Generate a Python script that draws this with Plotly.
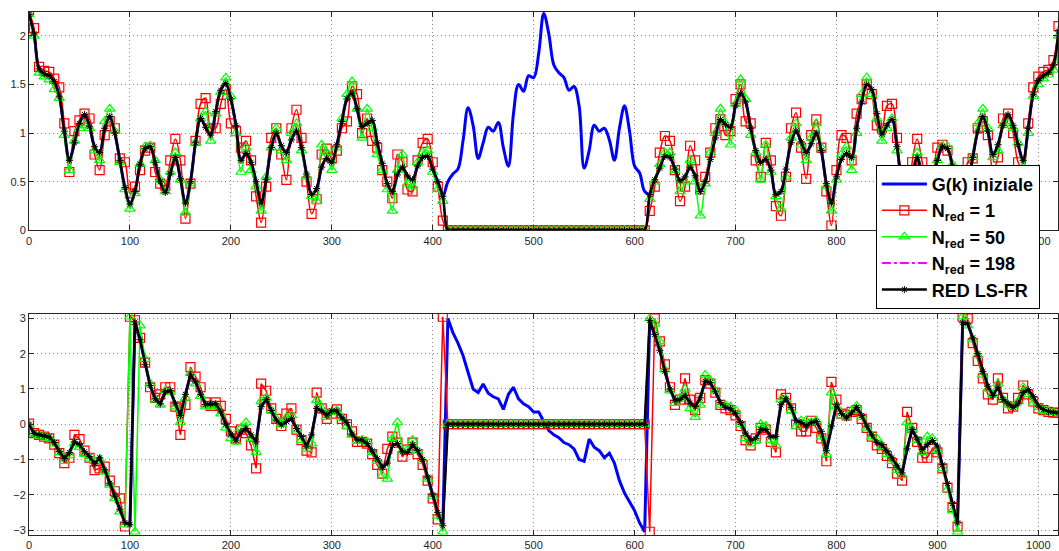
import plotly.graph_objects as go

# sample index grid (every 5th bin of a 1024-point spectrum)
K = list(range(0, 1021, 5))

# ---------------- magnitude |G(k)| ----------------
BLACK_MAG = [
    2.22, 2.02, 1.66, 1.61, 1.59, 1.53, 1.38, 1.02, 0.72, 0.90,
    1.10, 1.19, 1.07, 0.86, 0.80, 1.05, 1.17, 1.00, 0.72, 0.44,
    0.27, 0.40, 0.68, 0.84, 0.86, 0.70, 0.50, 0.39, 0.58, 0.75,
    0.53, 0.28, 0.50, 0.90, 1.15, 1.06, 0.98, 1.22, 1.44, 1.51,
    1.35, 1.08, 0.72, 0.79, 0.70, 0.50, 0.28, 0.52, 0.85, 1.00,
    0.87, 0.80, 0.93, 1.02, 0.85, 0.58, 0.37, 0.43, 0.65, 0.74,
    0.70, 0.88, 1.12, 1.35, 1.41, 1.25, 1.07, 1.10, 1.13, 0.90,
    0.69, 0.48, 0.40, 0.57, 0.65, 0.56, 0.52, 0.66, 0.75, 0.76,
    0.63, 0.50, 0.35, 0.00, 0.00, 0.00, 0.00, 0.00, 0.00, 0.00,
    0.00, 0.00, 0.00, 0.00, 0.00, 0.00, 0.00, 0.00, 0.00, 0.00,
    0.00, 0.00, 0.00, 0.00, 0.00, 0.00, 0.00, 0.00, 0.00, 0.00,
    0.00, 0.00, 0.00, 0.00, 0.00, 0.00, 0.00, 0.00, 0.00, 0.00,
    0.00, 0.00, 0.00, 0.37, 0.52, 0.64, 0.76, 0.75, 0.63, 0.51,
    0.55, 0.65, 0.56, 0.40, 0.50, 0.73, 0.95, 1.14, 1.09, 1.06,
    1.28, 1.41, 1.32, 1.05, 0.82, 0.70, 0.73, 0.62, 0.37, 0.40,
    0.63, 0.90, 1.02, 0.91, 0.80, 0.89, 1.00, 0.82, 0.48, 0.28,
    0.55, 0.73, 0.79, 0.75, 1.05, 1.32, 1.50, 1.45, 1.20, 0.99,
    1.08, 1.14, 0.86, 0.47, 0.29, 0.56, 0.75, 0.56, 0.40, 0.52,
    0.72, 0.86, 0.84, 0.66, 0.38, 0.28, 0.46, 0.75, 1.02, 1.17,
    1.02, 0.78, 0.88, 1.08, 1.19, 1.08, 0.88, 0.72, 1.05, 1.40,
    1.54, 1.59, 1.62, 1.70, 2.05,
]
RED_MAG = [
    2.25, 2.08, 1.68, 1.64, 1.63, 1.56, 1.47, 1.10, 0.60, 1.02,
    1.13, 1.20, 1.15, 0.78, 0.62, 0.98, 1.12, 1.05, 0.74, 0.70,
    0.38, 0.45, 0.62, 0.82, 0.85, 0.60, 0.48, 0.46, 0.72, 0.94,
    0.72, 0.12, 0.48, 0.92, 1.30, 1.36, 1.05, 1.05, 1.30, 1.45,
    1.10, 1.02, 0.85, 0.92, 0.72, 0.35, 0.08, 0.45, 0.95, 1.05,
    0.78, 0.52, 1.05, 1.24, 0.95, 0.50, 0.17, 0.32, 0.78, 0.84,
    0.74, 0.82, 1.05, 1.12, 1.48, 1.40, 1.00, 1.15, 0.92, 0.85,
    0.62, 0.50, 0.33, 0.78, 0.70, 0.42, 0.40, 0.72, 0.90, 0.94,
    0.70, 0.45, 0.10, 0.00, 0.00, 0.00, 0.00, 0.00, 0.00, 0.00,
    0.00, 0.00, 0.00, 0.00, 0.00, 0.00, 0.00, 0.00, 0.00, 0.00,
    0.00, 0.00, 0.00, 0.00, 0.00, 0.00, 0.00, 0.00, 0.00, 0.00,
    0.00, 0.00, 0.00, 0.00, 0.00, 0.00, 0.00, 0.00, 0.00, 0.00,
    0.00, 0.00, 0.00, 0.20, 0.45, 0.80, 0.97, 0.92, 0.62, 0.30,
    0.45, 0.87, 0.72, 0.42, 0.55, 0.80, 1.05, 1.14, 0.98, 1.02,
    1.35, 1.50, 1.12, 1.10, 0.72, 0.55, 0.90, 0.72, 0.25, 0.15,
    0.55, 1.05, 1.21, 0.85, 0.53, 0.98, 1.14, 0.85, 0.40, 0.05,
    0.62, 0.98, 0.95, 0.72, 1.20, 1.35, 1.50, 1.40, 1.08, 1.05,
    1.28, 1.30, 0.95, 0.45, 0.12, 0.70, 0.94, 0.70, 0.45, 0.48,
    0.85, 0.88, 0.82, 0.62, 0.45, 0.38, 0.70, 0.74, 1.05, 1.12,
    0.98, 0.62, 0.75, 1.15, 1.20, 1.00, 0.70, 0.62, 1.10, 1.47,
    1.58, 1.63, 1.65, 1.75, 2.10,
]
GREEN_MAG = [
    2.22, 2.00, 1.62, 1.58, 1.55, 1.45, 1.36, 0.98, 0.62, 0.92,
    1.05, 1.08, 1.05, 0.82, 0.72, 1.12, 1.25, 1.02, 0.70, 0.42,
    0.22, 0.38, 0.68, 0.86, 0.87, 0.72, 0.52, 0.40, 0.60, 0.80,
    0.52, 0.18, 0.48, 0.90, 1.15, 1.22, 0.92, 1.20, 1.42, 1.57,
    1.38, 1.00, 0.60, 0.85, 0.62, 0.45, 0.20, 0.55, 0.85, 1.05,
    0.82, 0.72, 1.00, 1.10, 0.82, 0.55, 0.35, 0.30, 0.88, 0.80,
    0.62, 0.85, 1.15, 1.40, 1.53, 1.25, 0.95, 1.25, 1.05, 0.78,
    0.62, 0.42, 0.20, 0.62, 0.78, 0.48, 0.45, 0.70, 0.80, 0.82,
    0.60, 0.42, 0.30, 0.00, 0.00, 0.00, 0.00, 0.00, 0.00, 0.00,
    0.00, 0.00, 0.00, 0.00, 0.00, 0.00, 0.00, 0.00, 0.00, 0.00,
    0.00, 0.00, 0.00, 0.00, 0.00, 0.00, 0.00, 0.00, 0.00, 0.00,
    0.00, 0.00, 0.00, 0.00, 0.00, 0.00, 0.00, 0.00, 0.00, 0.00,
    0.00, 0.00, 0.00, 0.32, 0.50, 0.68, 0.80, 0.80, 0.62, 0.40,
    0.50, 0.72, 0.50, 0.15, 0.48, 0.80, 1.00, 1.25, 1.10, 0.88,
    1.30, 1.55, 1.35, 0.98, 0.80, 0.52, 0.88, 0.60, 0.35, 0.22,
    0.55, 0.95, 1.10, 0.88, 0.72, 0.95, 1.10, 0.85, 0.45, 0.20,
    0.52, 0.78, 0.86, 0.62, 1.00, 1.40, 1.57, 1.40, 1.15, 0.92,
    1.05, 1.15, 0.82, 0.42, 0.20, 0.55, 0.80, 0.55, 0.40, 0.52,
    0.72, 0.87, 0.86, 0.68, 0.38, 0.24, 0.45, 0.75, 1.10, 1.25,
    1.05, 0.75, 0.82, 1.08, 1.10, 1.05, 0.90, 0.65, 1.00, 1.38,
    1.50, 1.56, 1.60, 1.65, 2.00,
]
# original G(k) in the removed band k = 415 ... 610
BLUE_MAG_MID = [
    0.50, 0.58, 0.63, 0.92, 1.26, 1.08, 0.74, 0.90, 1.06, 1.02,
    1.11, 0.85, 0.66, 1.20, 1.50, 1.43, 1.59, 1.57, 1.82, 2.23,
    2.02, 1.70, 1.62, 1.57, 1.44, 1.48, 1.28, 0.64, 0.82, 1.08,
    1.02, 1.05, 0.93, 0.72, 1.05, 1.28, 1.02, 0.66, 0.59, 0.40,
]

# ---------------- phase arg G(k) ----------------
BLACK_PH = [
    0.00, -0.26, -0.30, -0.33, -0.36, -0.52, -0.77, -0.97, -0.80, -0.50,
    -0.58, -0.78, -0.92, -1.12, -0.95, -1.29, -1.67, -2.04, -2.41, -2.79,
    -2.85, 2.90, 2.40, 1.70, 1.10, 0.72, 0.58, 0.92, 0.95, 0.58,
    0.25, 0.85, 1.40, 1.20, 0.85, 0.56, 0.58, 0.58, 0.35, 0.00,
    -0.28, -0.45, -0.22, -0.12, -0.30, -0.50, 0.50, 0.70, 0.39, 0.12,
    -0.02, 0.08, 0.16, -0.12, -0.35, -0.62, -0.30, 0.45, 0.38, 0.26,
    0.38, 0.38, 0.18, 0.05, -0.28, -0.44, -0.45, -0.55, -0.76, -0.98,
    -1.22, -1.10, -0.60, -0.55, -0.78, -0.80, -0.58, -0.75, -1.00, -1.50,
    -2.00, -2.50, -2.88, 0.00, 0.00, 0.00, 0.00, 0.00, 0.00, 0.00,
    0.00, 0.00, 0.00, 0.00, 0.00, 0.00, 0.00, 0.00, 0.00, 0.00,
    0.00, 0.00, 0.00, 0.00, 0.00, 0.00, 0.00, 0.00, 0.00, 0.00,
    0.00, 0.00, 0.00, 0.00, 0.00, 0.00, 0.00, 0.00, 0.00, 0.00,
    0.00, 0.00, 0.00, 2.95, 2.55, 2.10, 1.50, 1.00, 0.68, 0.70,
    0.82, 0.60, 0.50, 0.75, 1.22, 1.18, 0.92, 0.62, 0.48, 0.44,
    0.30, 0.05, -0.25, -0.45, -0.40, -0.15, -0.15, -0.35, -0.35, 0.55,
    0.72, 0.48, 0.10, 0.05, -0.05, 0.05, 0.08, -0.20, -0.75, -0.05,
    0.55, 0.30, 0.18, 0.32, 0.48, 0.25, -0.05, -0.30, -0.52, -0.58,
    -0.75, -0.95, -1.18, -1.38, -0.70, -0.15, -0.42, -0.72, -0.58, -0.46,
    -0.62, -1.15, -1.68, -2.25, -2.80, 2.88, 2.85, 2.45, 2.00, 1.50,
    1.08, 0.82, 1.05, 0.70, 0.58, 0.48, 0.58, 0.90, 0.98, 0.78,
    0.52, 0.42, 0.36, 0.34, 0.32,
]
RED_PH = [
    0.02, -0.25, -0.30, -0.35, -0.40, -0.58, -0.82, -1.10, -0.95, -0.30,
    -0.42, -0.75, -0.95, -1.30, -1.25, -1.20, -1.60, -1.90, -2.10, -2.90,
    3.05, 2.95, 2.45, 1.75, 1.05, 0.75, 0.85, 1.05, 1.05, 0.50,
    -0.30, 0.55, 1.62, 1.35, 1.05, 0.62, 0.52, 0.62, 0.52, 0.15,
    -0.20, -0.40, -0.15, -0.25, -0.60, -1.25, 1.15, 0.95, 0.45, 0.15,
    -0.05, 0.30, 0.45, -0.15, -0.45, -0.75, -0.80, 0.90, 0.45, 0.15,
    0.30, 0.42, 0.15, 0.00, -0.20, -0.50, -0.50, -0.55, -0.85, -1.15,
    -1.40, -0.70, -0.35, -0.52, -0.92, -0.72, -0.52, -0.85, -1.15, -1.60,
    -2.10, -2.70, 3.05, 0.00, 0.00, 0.00, 0.00, 0.00, 0.00, 0.00,
    0.00, 0.00, 0.00, 0.00, 0.00, 0.00, 0.00, 0.00, 0.00, 0.00,
    0.00, 0.00, 0.00, 0.00, 0.00, 0.00, 0.00, 0.00, 0.00, 0.00,
    0.00, 0.00, 0.00, 0.00, 0.00, 0.00, 0.00, 0.00, 0.00, 0.00,
    0.00, 0.00, 0.00, -3.05, 3.00, 2.35, 1.70, 1.05, 0.55, 0.70,
    1.30, 0.70, 0.40, 0.75, 1.25, 1.15, 0.90, 0.55, 0.45, 0.40,
    0.25, -0.05, -0.45, -0.60, -0.40, -0.10, -0.15, -0.50, -0.80, 0.85,
    0.75, 0.45, 0.00, -0.20, -0.20, 0.10, -0.10, -0.40, -1.05, 1.20,
    0.70, 0.30, 0.25, 0.35, 0.40, 0.15, -0.10, -0.35, -0.60, -0.70,
    -0.90, -1.10, -1.40, -1.60, 0.35, -0.10, -0.50, -0.95, -0.95, -0.70,
    -0.80, -1.25, -1.80, -2.35, -2.90, 3.05, 3.00, 2.30, 1.80, 1.30,
    0.85, 0.70, 1.30, 0.75, 0.45, 0.50, 0.75, 1.10, 0.85, 0.65,
    0.45, 0.40, 0.35, 0.33, 0.32,
]
GREEN_PH = [
    -0.02, -0.28, -0.32, -0.35, -0.40, -0.55, -0.80, -1.05, -0.88, -0.55,
    -0.65, -0.85, -0.98, -1.05, -1.00, -1.35, -1.72, -2.10, -2.48, -2.85,
    3.05, -3.05, 2.80, 1.85, 1.15, 0.70, 0.55, 0.95, 0.92, 0.50,
    0.05, 0.75, 1.45, 1.15, 0.80, 0.50, 0.50, 0.52, 0.30, -0.10,
    -0.40, -0.50, -0.10, 0.05, -0.40, -0.80, 0.65, 0.75, 0.40, 0.15,
    0.00, 0.20, 0.25, -0.15, -0.45, -0.70, -0.55, 0.68, 0.45, 0.20,
    0.35, 0.40, 0.18, -0.05, -0.30, -0.48, -0.45, -0.50, -0.80, -1.05,
    -1.45, -1.55, -0.40, 0.05, -0.75, -0.72, -0.45, -0.75, -1.05, -1.55,
    -2.05, -2.60, -3.05, 0.00, 0.00, 0.00, 0.00, 0.00, 0.00, 0.00,
    0.00, 0.00, 0.00, 0.00, 0.00, 0.00, 0.00, 0.00, 0.00, 0.00,
    0.00, 0.00, 0.00, 0.00, 0.00, 0.00, 0.00, 0.00, 0.00, 0.00,
    0.00, 0.00, 0.00, 0.00, 0.00, 0.00, 0.00, 0.00, 0.00, 0.00,
    0.00, 0.00, 0.00, 3.00, 2.85, 2.35, 1.55, 0.95, 0.60, 0.75,
    1.00, 0.45, 0.20, 0.55, 1.40, 1.25, 0.95, 0.55, 0.55, 0.50,
    0.40, 0.00, -0.40, -0.55, -0.45, 0.00, -0.05, -0.45, -0.60, 0.70,
    0.70, 0.40, -0.05, 0.10, 0.10, 0.05, 0.10, -0.35, -0.85, 0.90,
    0.50, 0.25, 0.20, 0.40, 0.52, 0.20, -0.10, -0.35, -0.40, -0.62,
    -0.85, -1.05, -1.30, -1.45, 0.05, -0.15, -0.45, -0.80, -0.35, -0.40,
    -0.75, -1.25, -1.85, -2.45, -3.05, 3.05, 2.80, 2.40, 1.95, 1.40,
    1.00, 0.85, 1.15, 0.70, 0.55, 0.50, 0.65, 1.05, 0.85, 0.60,
    0.48, 0.40, 0.36, 0.34, 0.32,
]
# original phase in the removed band k = 415 ... 610
BLUE_PH_MID = [
    3.00, 2.60, 2.30, 1.95, 1.50, 1.00, 0.90, 1.14, 0.88, 0.78,
    0.72, 0.42, 0.85, 1.05, 0.72, 0.58, 0.50, 0.35, 0.35, 0.10,
    -0.18, -0.30, -0.38, -0.52, -0.58, -0.70, -1.00, -1.05, -0.42, -0.65,
    -0.75, -0.95, -0.82, -1.10, -1.60, -1.95, -2.18, -2.45, -2.80, -3.05,
]

X_TICKS = [0, 100, 200, 300, 400, 500, 600, 700, 800, 900, 1000]
Y1_TICKS = [0, 0.5, 1, 1.5, 2]
Y1_LABELS = ["0", "0.5", "1", "1.5", "2"]
Y2_TICKS = [-3, -2, -1, 0, 1, 2, 3]

NAMES = ["<b>G(k) iniziale</b>", "<b>N<sub>red</sub> = 1</b>", "<b>N<sub>red</sub> = 50</b>",
         "<b>N<sub>red</sub> = 198</b>", "<b>RED LS-FR</b>"]

# original curves = retained bins of the reduced curve + the removed band
BLUE_MAG = BLACK_MAG[:83] + BLUE_MAG_MID + BLACK_MAG[123:]
BLUE_PH = BLACK_PH[:83] + BLUE_PH_MID + BLACK_PH[123:]

FONT = "Liberation Sans, Arial, Helvetica, sans-serif"

fig = go.Figure()

def add_set(ys, xa, ya, legend, shape):
    blue, red, green, mag, black = ys
    fig.add_trace(go.Scatter(x=K, y=blue, name=NAMES[0], mode="lines", xaxis=xa, yaxis=ya,
                             showlegend=legend, legendgroup="b",
                             line=dict(color="#0000ff", width=3, shape=shape)))
    fig.add_trace(go.Scatter(x=K, y=red, name=NAMES[1], mode="lines+markers", xaxis=xa, yaxis=ya,
                             showlegend=legend, legendgroup="r",
                             line=dict(color="#ff0000", width=1.5, shape=shape),
                             marker=dict(symbol="square-open", size=9, color="#ff0000",
                                         line=dict(color="#ff0000", width=1.2))))
    fig.add_trace(go.Scatter(x=K, y=green, name=NAMES[2], mode="lines+markers", xaxis=xa, yaxis=ya,
                             showlegend=legend, legendgroup="g",
                             line=dict(color="#00ff00", width=1.5, shape=shape),
                             marker=dict(symbol="triangle-up-open", size=9, color="#00ff00",
                                         line=dict(color="#00ff00", width=1.2))))
    fig.add_trace(go.Scatter(x=K, y=mag, name=NAMES[3], mode="lines", xaxis=xa, yaxis=ya,
                             showlegend=legend, legendgroup="m",
                             line=dict(color="#ff00ff", width=2, dash="dashdot", shape=shape)))
    fig.add_trace(go.Scatter(x=K, y=black, name=NAMES[4], mode="lines+markers", xaxis=xa, yaxis=ya,
                             showlegend=legend, legendgroup="k",
                             line=dict(color="#000000", width=2.5, shape=shape),
                             marker=dict(symbol="asterisk-open", size=6, color="#000000",
                                         line=dict(color="#000000", width=1))))

add_set([BLUE_MAG, RED_MAG, GREEN_MAG, BLACK_MAG, BLACK_MAG], "x", "y", True, "spline")
add_set([BLUE_PH, RED_PH, GREEN_PH, BLACK_PH, BLACK_PH], "x2", "y2", False, "linear")

axis_common = dict(showline=True, linecolor="#262626", linewidth=1, mirror="ticks",
                   ticks="inside", ticklen=5, tickcolor="#262626",
                   showgrid=True, gridcolor="#8a8a8a", griddash="1px,3px", gridwidth=1,
                   zeroline=False, tickfont=dict(family=FONT, size=11, color="#262626"))

fig.update_layout(
    width=1059, height=551,
    margin=dict(l=29, r=0, t=12, b=12),
    paper_bgcolor="white", plot_bgcolor="white",
    xaxis=dict(domain=[0, 1], range=[0, 1019.5], tickvals=X_TICKS, anchor="y", **axis_common),
    yaxis=dict(domain=[0.5825, 1], range=[0, 2.245], tickvals=Y1_TICKS, ticktext=Y1_LABELS,
               anchor="x", **axis_common),
    xaxis2=dict(domain=[0, 1], range=[0, 1019.5], tickvals=X_TICKS, anchor="y2", **axis_common),
    yaxis2=dict(domain=[0, 0.4235], range=[-3.1416, 3.1416], tickvals=Y2_TICKS,
                anchor="x2", **axis_common),
    legend=dict(x=0.823, y=0.708, xanchor="left", yanchor="top", bgcolor="white",
                bordercolor="#000000", borderwidth=1, tracegroupgap=0, itemwidth=45,
                font=dict(family=FONT, size=18, color="#000000")),
    showlegend=True,
    hovermode=False,
)

fig.write_html("out.html", config={"displayModeBar": False},
               post_script="document.body.style.margin='0';")
